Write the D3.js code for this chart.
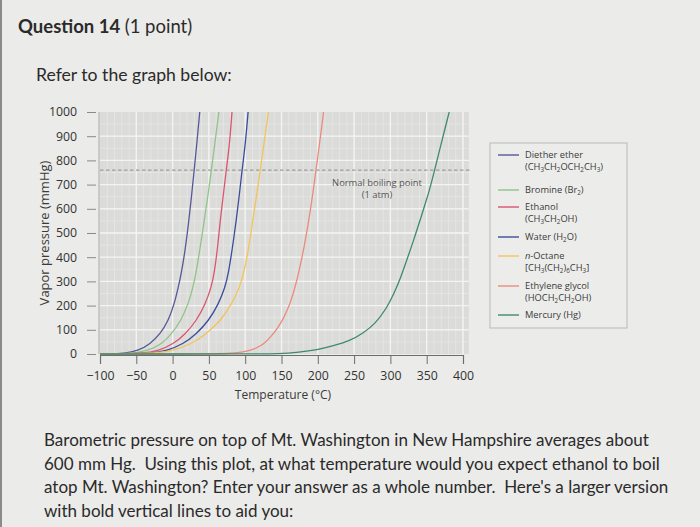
<!DOCTYPE html>
<html>
  <head>
    <script src="https://d3js.org/d3.v7.min.js"></script>
    <style>
      body { margin: 0; background: #ebebe9; }
      svg { display: block; }
      .q { font-family: Lato, "Open Sans", sans-serif; fill: #2a2a2a; }
      .chart text { font-family: "Open Sans", "Noto Sans", sans-serif; fill: #3a3a3a; }
    </style>
  </head>
  <body>
    <svg id="page" width="700" height="527"></svg>
    <script>
      // Curves: [temperature in C, vapor pressure in mmHg]
      var dietherEther = [[-100,0],[-80,0.5],[-65,3],[-47,14],[-31,41],[-17,83],[-6,137],[2.3,206],[7.8,275],[11.4,325],[17,420],[22.3,550],[26,650],[29.6,756],[33.7,880],[37.4,1000]];
      var bromine = [[-100,0],[-60,1],[-33,14],[-15,41],[-1.3,83],[11.4,137],[21.4,206],[28.2,275],[32.5,340],[38,440],[44.2,564],[49,660],[53.2,756],[58.5,875],[63.7,1000]];
      var ethanol = [[-100,0],[-40,2],[-19.5,14],[1,41],[17.7,83],[32.7,137],[45,206],[53.2,275],[57.5,335],[62,440],[66,564],[70,660],[73.7,756],[78.3,860],[81.8,1000]];
      var water = [[-100,0],[-30,2],[-8,14],[14.6,41],[32.7,83],[49.6,137],[63.2,206],[72.3,275],[77,335],[82.5,440],[88.2,564],[92,660],[95.5,756],[100,860],[104,1000]];
      var nOctane = [[-100,0],[-30,1],[1,14],[25.9,41],[46.4,83],[66,137],[81.4,206],[92.3,275],[98.5,340],[105,440],[111,564],[116,660],[120.5,756],[125.5,860],[131.9,1000]];
      var ethyleneGlycol = [[-100,0],[50,0],[80,2],[104,11],[115,24],[126,42],[135,70],[145,108],[153,148],[162,208],[170,288],[178,395],[182,455],[189,575],[197.5,756],[208,1000]];
      var mercury = [[-100,0],[100,0],[150,1],[173,7],[200,18],[219,32],[245,55],[262,85],[279,124],[295,190],[305,250],[315,322],[323,392],[332,470],[340,545],[349,630],[355,690],[361,760],[370,870],[381,1000]];

      var seriesNames = ["Diether ether", "Bromine", "Ethanol", "Water", "n-Octane", "Ethylene glycol", "Mercury"];
      var seriesData = [dietherEther, bromine, ethanol, water, nOctane, ethyleneGlycol, mercury];
      var seriesColors = ["#57579a", "#8fc488", "#dc5470", "#3c4c9c", "#f2c45a", "#ea8a7e", "#3f8a6c"];

      // Legend lines: [text, flag] pieces per row ("s" subscript, "i" italic)
      var legendRows = [
        [[["Diether ether"]], [["(CH"],["3","s"],["CH"],["2","s"],["OCH"],["2","s"],["CH"],["3","s"],[")"]]],
        [[["Bromine (Br"],["2","s"],[")"]]],
        [[["Ethanol"]], [["(CH"],["3","s"],["CH"],["2","s"],["OH)"]]],
        [[["Water (H"],["2","s"],["O)"]]],
        [[["n","i"],["-Octane"]], [["[CH"],["3","s"],["(CH"],["2","s"],[")"],["6","s"],["CH"],["3","s"],["]"]]],
        [[["Ethylene glycol"]], [["(HOCH"],["2","s"],["CH"],["2","s"],["OH)"]]],
        [[["Mercury (Hg)"]]]
      ];
      var legendY = [155, 190, 207, 237, 256, 286, 315];

      var xTicks = [-100, -50, 0, 50, 100, 150, 200, 250, 300, 350, 400];
      var yTicks = [0, 100, 200, 300, 400, 500, 600, 700, 800, 900, 1000];
      var boilingPressure = 760;

      var svg = d3.select("#page");

      // left border of the screenshot
      svg.append("rect").attr("x", 0).attr("y", 0).attr("width", 2).attr("height", 527).attr("fill", "#8a8a88");

      // Question text
      var title = svg.append("text").attr("class", "q").attr("x", 18).attr("y", 33).style("font-size", "18.5px");
      title.append("tspan").style("font-weight", "bold").text("Question 14 ");
      title.append("tspan").text("(1 point)");
      svg.append("text").attr("class", "q").attr("x", 36).attr("y", 81).style("font-size", "17.6px").text("Refer to the graph below:");

      var para = [
        "Barometric pressure on top of Mt. Washington in New Hampshire averages about",
        "600 mm Hg.  Using this plot, at what temperature would you expect ethanol to boil",
        "atop Mt. Washington? Enter your answer as a whole number.  Here's a larger version",
        "with bold vertical lines to aid you:"
      ];
      svg.selectAll("text.para").data(para).enter().append("text")
        .attr("class", "q para")
        .attr("x", 44)
        .attr("y", function(d, i) { return 446 + i * 23.5; })
        .style("font-size", "17px")
        .style("white-space", "pre")
        .text(function(d) { return d; });

      // Chart
      var chart = svg.append("g").attr("class", "chart");
      var x = d3.scaleLinear().domain([-100, 400]).range([100, 463]);
      var y = d3.scaleLinear().domain([0, 1000]).range([354, 112]);
      var plotRight = x(408);

      chart.append("rect")
        .attr("x", x(-100)).attr("y", y(1000))
        .attr("width", plotRight - x(-100)).attr("height", y(0) - y(1000))
        .attr("fill", "#dbdbd9");

      // grid
      var grid = chart.append("g");
      grid.selectAll("line.vmin").data(d3.range(-90, 408, 10)).enter().append("line")
        .attr("x1", function(d) { return x(d); }).attr("x2", function(d) { return x(d); })
        .attr("y1", y(1000)).attr("y2", y(0))
        .attr("stroke", "#e8e8e6").attr("stroke-width", 0.7);
      grid.selectAll("line.hmin").data(d3.range(50, 1000, 50)).enter().append("line")
        .attr("x1", x(-100)).attr("x2", plotRight)
        .attr("y1", function(d) { return y(d); }).attr("y2", function(d) { return y(d); })
        .attr("stroke", "#e8e8e6").attr("stroke-width", 0.7);
      grid.selectAll("line.vmaj").data(xTicks.slice(1)).enter().append("line")
        .attr("x1", function(d) { return x(d); }).attr("x2", function(d) { return x(d); })
        .attr("y1", y(1000)).attr("y2", y(0))
        .attr("stroke", "#f4f4f3").attr("stroke-width", 1.3);
      grid.selectAll("line.hmaj").data(yTicks.slice(1, -1)).enter().append("line")
        .attr("x1", x(-100)).attr("x2", plotRight)
        .attr("y1", function(d) { return y(d); }).attr("y2", function(d) { return y(d); })
        .attr("stroke", "#f4f4f3").attr("stroke-width", 1.3);

      // left edge of plot
      chart.append("line").attr("x1", x(-100) - 1).attr("x2", x(-100) - 1)
        .attr("y1", y(1000)).attr("y2", y(0)).attr("stroke", "#a8a8a6").attr("stroke-width", 1);

      // normal boiling point line
      chart.append("line")
        .attr("x1", x(-100)).attr("x2", plotRight + 1)
        .attr("y1", y(boilingPressure)).attr("y2", y(boilingPressure))
        .attr("stroke", "#9d9d9b").attr("stroke-width", 1.2).attr("stroke-dasharray", "3.5,2.5");
      chart.append("text").attr("x", 377).attr("y", 186).attr("text-anchor", "middle")
        .style("font-size", "9.4px").style("fill", "#555").text("Normal boiling point");
      chart.append("text").attr("x", 377).attr("y", 198).attr("text-anchor", "middle")
        .style("font-size", "9.4px").style("fill", "#555").text("(1 atm)");

      // curves
      chart.append("clipPath").attr("id", "clip").append("rect")
        .attr("x", x(-100)).attr("y", y(1000)).attr("width", plotRight - x(-100)).attr("height", y(0) - y(1000) + 2);
      var line = d3.line()
        .x(function(d) { return x(d[0]); })
        .y(function(d) { return y(d[1]); })
        .curve(d3.curveBasis);
      chart.append("g").attr("clip-path", "url(#clip)")
        .selectAll("path").data(seriesData).enter().append("path")
        .attr("d", line)
        .attr("fill", "none")
        .attr("stroke", function(d, i) { return seriesColors[i]; })
        .attr("stroke-width", 1.3);

      // axes
      var xAxis = chart.append("g").attr("transform", "translate(0," + (y(0) + 1) + ")")
        .call(d3.axisBottom(x).tickValues(xTicks).tickSize(9).tickPadding(7)
          .tickFormat(function(d) { return d < 0 ? "\u2212" + Math.abs(d) : d; }));
      xAxis.select(".domain").attr("stroke", "#6d6d6b").attr("stroke-width", 1.2);
      xAxis.selectAll(".tick line").attr("stroke", "#6d6d6b");
      xAxis.selectAll("text").style("font-size", "12.3px").style("fill", "#333");

      var yAxis = chart.append("g").attr("transform", "translate(96,0)")
        .call(d3.axisLeft(y).tickValues(yTicks).tickSize(9).tickPadding(10).tickFormat(d3.format("d")));
      yAxis.select(".domain").remove();
      yAxis.selectAll(".tick line").attr("stroke", "#8a8a88");
      yAxis.selectAll("text").style("font-size", "12.3px").style("fill", "#333");

      chart.append("text").attr("x", 283).attr("y", 399).attr("text-anchor", "middle")
        .style("font-size", "12px").text("Temperature (\u00B0C)");
      chart.append("text").attr("transform", "translate(49,233) rotate(-90)").attr("text-anchor", "middle")
        .style("font-size", "13px").text("Vapor pressure (mmHg)");

      // legend
      var legend = chart.append("g");
      legend.append("rect").attr("x", 490).attr("y", 143).attr("width", 137).attr("height", 185)
        .attr("fill", "#ecedeb").attr("stroke", "#b9b9b7").attr("stroke-width", 1);
      legendRows.forEach(function(row, i) {
        legend.append("line").attr("x1", 498).attr("x2", 519)
          .attr("y1", legendY[i]).attr("y2", legendY[i])
          .attr("stroke", seriesColors[i]).attr("stroke-width", 1.4);
        row.forEach(function(pieces, j) {
          var t = legend.append("text").attr("x", 525).attr("y", legendY[i] + 3 + j * 12)
            .style("font-size", "9.3px");
          var lastSub = false;
          pieces.forEach(function(p) {
            var ts = t.append("tspan").text(p[0]);
            if (p[1] === "s") {
              ts.style("font-size", "6.3px").attr("dy", 2);
              lastSub = true;
            } else {
              if (p[1] === "i") ts.style("font-style", "italic");
              if (lastSub) ts.attr("dy", -2); // back to baseline
              lastSub = false;
            }
          });
        });
      });
    </script>
  </body>
</html>
